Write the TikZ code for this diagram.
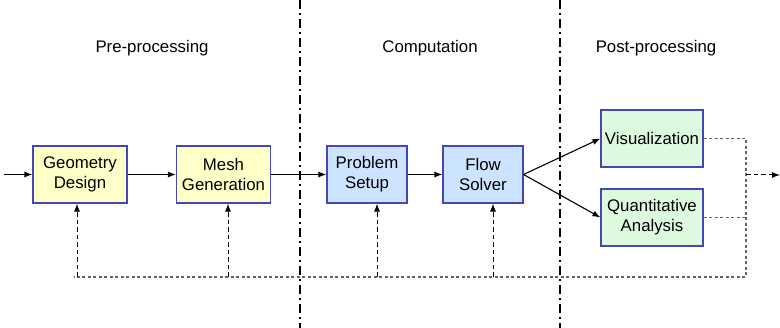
\documentclass[tikz,border=0pt]{standalone}
\usepackage{fontspec}
\setmainfont{Liberation Sans}
\usetikzlibrary{arrows.meta}
\definecolor{bord}{HTML}{4646B4}
\definecolor{yel}{HTML}{FFFFC8}
\definecolor{blu}{HTML}{CCE4FF}
\definecolor{grn}{HTML}{DEFADE}
\begin{document}
\begin{tikzpicture}[x=1pt,y=-1pt,
  box/.style={draw=bord,line width=1.1pt,minimum height=57pt,align=center,font=\fontsize{16.8}{20}\selectfont,inner sep=2pt},
  yb/.style={box,fill=yel,minimum width=94pt},
  bb/.style={box,fill=blu,minimum width=80pt},
  gb/.style={box,fill=grn,minimum width=102pt},
  flow/.style={-{Latex[length=8pt,width=6pt]},line width=1.1pt},
  fb/.style={-{Latex[length=8pt,width=6pt]},line width=1pt,dash pattern=on 4.5pt off 3pt},
  gd/.style={draw=black!60,line width=1.1pt,dash pattern=on 3pt off 2.5pt},
  sep/.style={line width=2pt,dash pattern=on 9pt off 4pt on 2pt off 4pt},
  ttl/.style={font=\fontsize{16.8}{20}\selectfont}]
\useasboundingbox (0,0) rectangle (780,328);
\draw[sep] (299.5,0) -- (299.5,328);
\draw[sep] (559.5,0) -- (559.5,328);
\node[ttl] (t1) at (152,48) {Pre-processing};
\node[ttl] (t2) at (430,48) {Computation};
\node[ttl] (t3) at (656,48) {Post-processing};
\node[yb] (geo) at (80,174.5) {Geometry\\Design};
\node[yb] (mesh) at (223.5,174.5) {Mesh\\Generation};
\node[bb] (prob) at (367,174.5) {Problem\\Setup};
\node[bb] (flow) at (483,174.5) {Flow\\Solver};
\node[gb] (vis) at (652,138.5) {Visualization};
\node[gb] (qa) at (652,217.5) {Quantitative\\Analysis};
\coordinate (in) at (4,174.5);
\coordinate (bl) at (74,277);
\coordinate (br) at (746,277);
\coordinate (vr) at (746,138.5);
\coordinate (qr) at (746,217.5);
\coordinate (om) at (746,175);
\coordinate (out) at (780,175);
\draw[flow] (in) -- (geo);
\draw[flow] (geo) -- (mesh);
\draw[flow] (mesh) -- (prob);
\draw[flow] (prob) -- (flow);
\draw[flow] (flow.east) -- (vis.west);
\draw[flow] (flow.east) -- (qa.west);
\draw[gd] (vis.east) -- (vr) -- (br) -- (bl);
\draw[gd] (qa.east) -- (qr);
\draw[fb] (om) -- (out);
\draw[fb] ([xshift=-3pt]geo.south |- bl) -- ([xshift=-3pt]geo.south);
\draw[fb] ([xshift=4.5pt]mesh.south |- bl) -- ([xshift=4.5pt]mesh.south);
\draw[fb] ([xshift=10pt]prob.south |- bl) -- ([xshift=10pt]prob.south);
\draw[fb] ([xshift=10pt]flow.south |- bl) -- ([xshift=10pt]flow.south);
\end{tikzpicture}
\end{document}
